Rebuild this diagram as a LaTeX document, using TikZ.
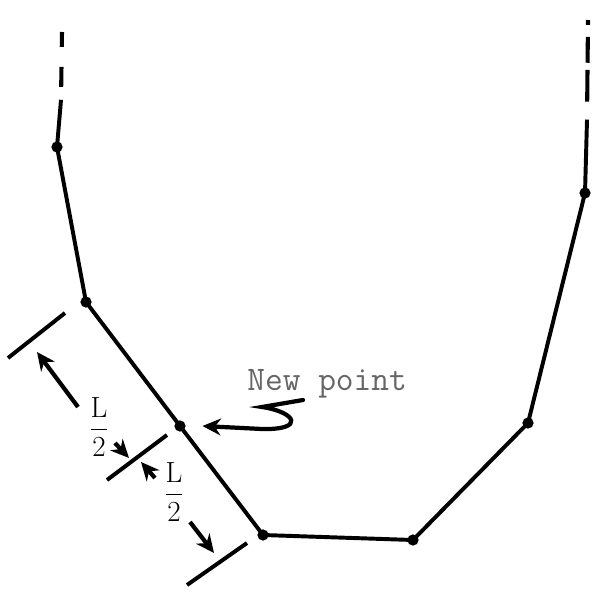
\documentclass[tikz,border=0pt]{standalone}
\usetikzlibrary{arrows.meta, calc}
\usepackage{amsmath}
\begin{document}
\begin{tikzpicture}[
  x=0.025cm, y=-0.025cm,
  pt/.style={circle, fill=black, inner sep=0pt, minimum size=8pt},
  seg/.style={line width=2.8pt, line join=round},
  brk/.style={line width=2.9pt, dash pattern=#1},
  tick/.style={line width=2.8pt},
  arr/.style={-{Stealth[length=13pt, width=12pt]}, line width=3pt},
  half/.style={font=\fontsize{21}{23}\selectfont, inner sep=0pt},
  note/.style={font=\ttfamily\fontsize{24.5}{27}\selectfont, text=black!60, inner sep=0pt}
]
\useasboundingbox (0,0) rectangle (605,593);

% Points
\node[pt] (p1) at (57,147) {};
\node[pt] (p2) at (86,302) {};
\node[pt] (newpt) at (180,426) {};
\node[pt] (p4) at (263,535) {};
\node[pt] (p5) at (413,540) {};
\node[pt] (p6) at (528,423) {};
\node[pt] (p7) at (585,193) {};

% Open ends
\coordinate (ltop) at (62,32);
\coordinate (lcut) at (61,100);
\coordinate (rtop) at (588,20);
\coordinate (rcut) at (587,120);

% Curve
\draw[brk={on 10.6pt off 14.2pt on 14.2pt off 9.2pt}] (ltop) -- (lcut);
\draw[brk={on 3.5pt off 8.5pt on 18.4pt off 5pt on 22.7pt off 12.8pt}] (rtop) -- (rcut);
\draw[seg] (lcut) -- (p1.center) -- (p2.center) -- (newpt.center) -- (p4.center)
  -- (p5.center) -- (p6.center) -- (p7.center) -- (rcut);

% Dimension ticks
\coordinate (t1a) at (8,358);   \coordinate (t1b) at (65,313);
\coordinate (t2a) at (107,480); \coordinate (t2b) at (167,435);
\coordinate (t3a) at (187,585); \coordinate (t3b) at (247,543);
\draw[tick] (t1a) -- (t1b);
\draw[tick] (t2a) -- (t2b);
\draw[tick] (t3a) -- (t3b);

% Half-length labels and arrows
\node[half] (h1) at (99,427) {$\dfrac{\mathrm{L}}{2}$};
\node[half] (h2) at (174,492) {$\dfrac{\mathrm{L}}{2}$};
\coordinate (a1s) at (78,407);  \coordinate (a1e) at (37,352);
\coordinate (a2s) at (115,443); \coordinate (a2e) at (129,458);
\coordinate (a3s) at (155,478); \coordinate (a3e) at (141,462);
\coordinate (a4s) at (190,522); \coordinate (a4e) at (214,553);
\draw[arr] (a1s) -- (a1e);
\draw[arr] (a2s) -- (a2e);
\draw[arr] (a3s) -- (a3e);
\draw[arr] (a4s) -- (a4e);

% Note
\node[note, anchor=base west] (lbl) at (247,390) {New point};
\coordinate (sq) at (303,400);
\draw[arr, line cap=round] (sq) -- (262,407) .. controls (296,412) and (306,430) .. (262,429)
  -- ([xshift=16pt]newpt.center);

\end{tikzpicture}
\end{document}
